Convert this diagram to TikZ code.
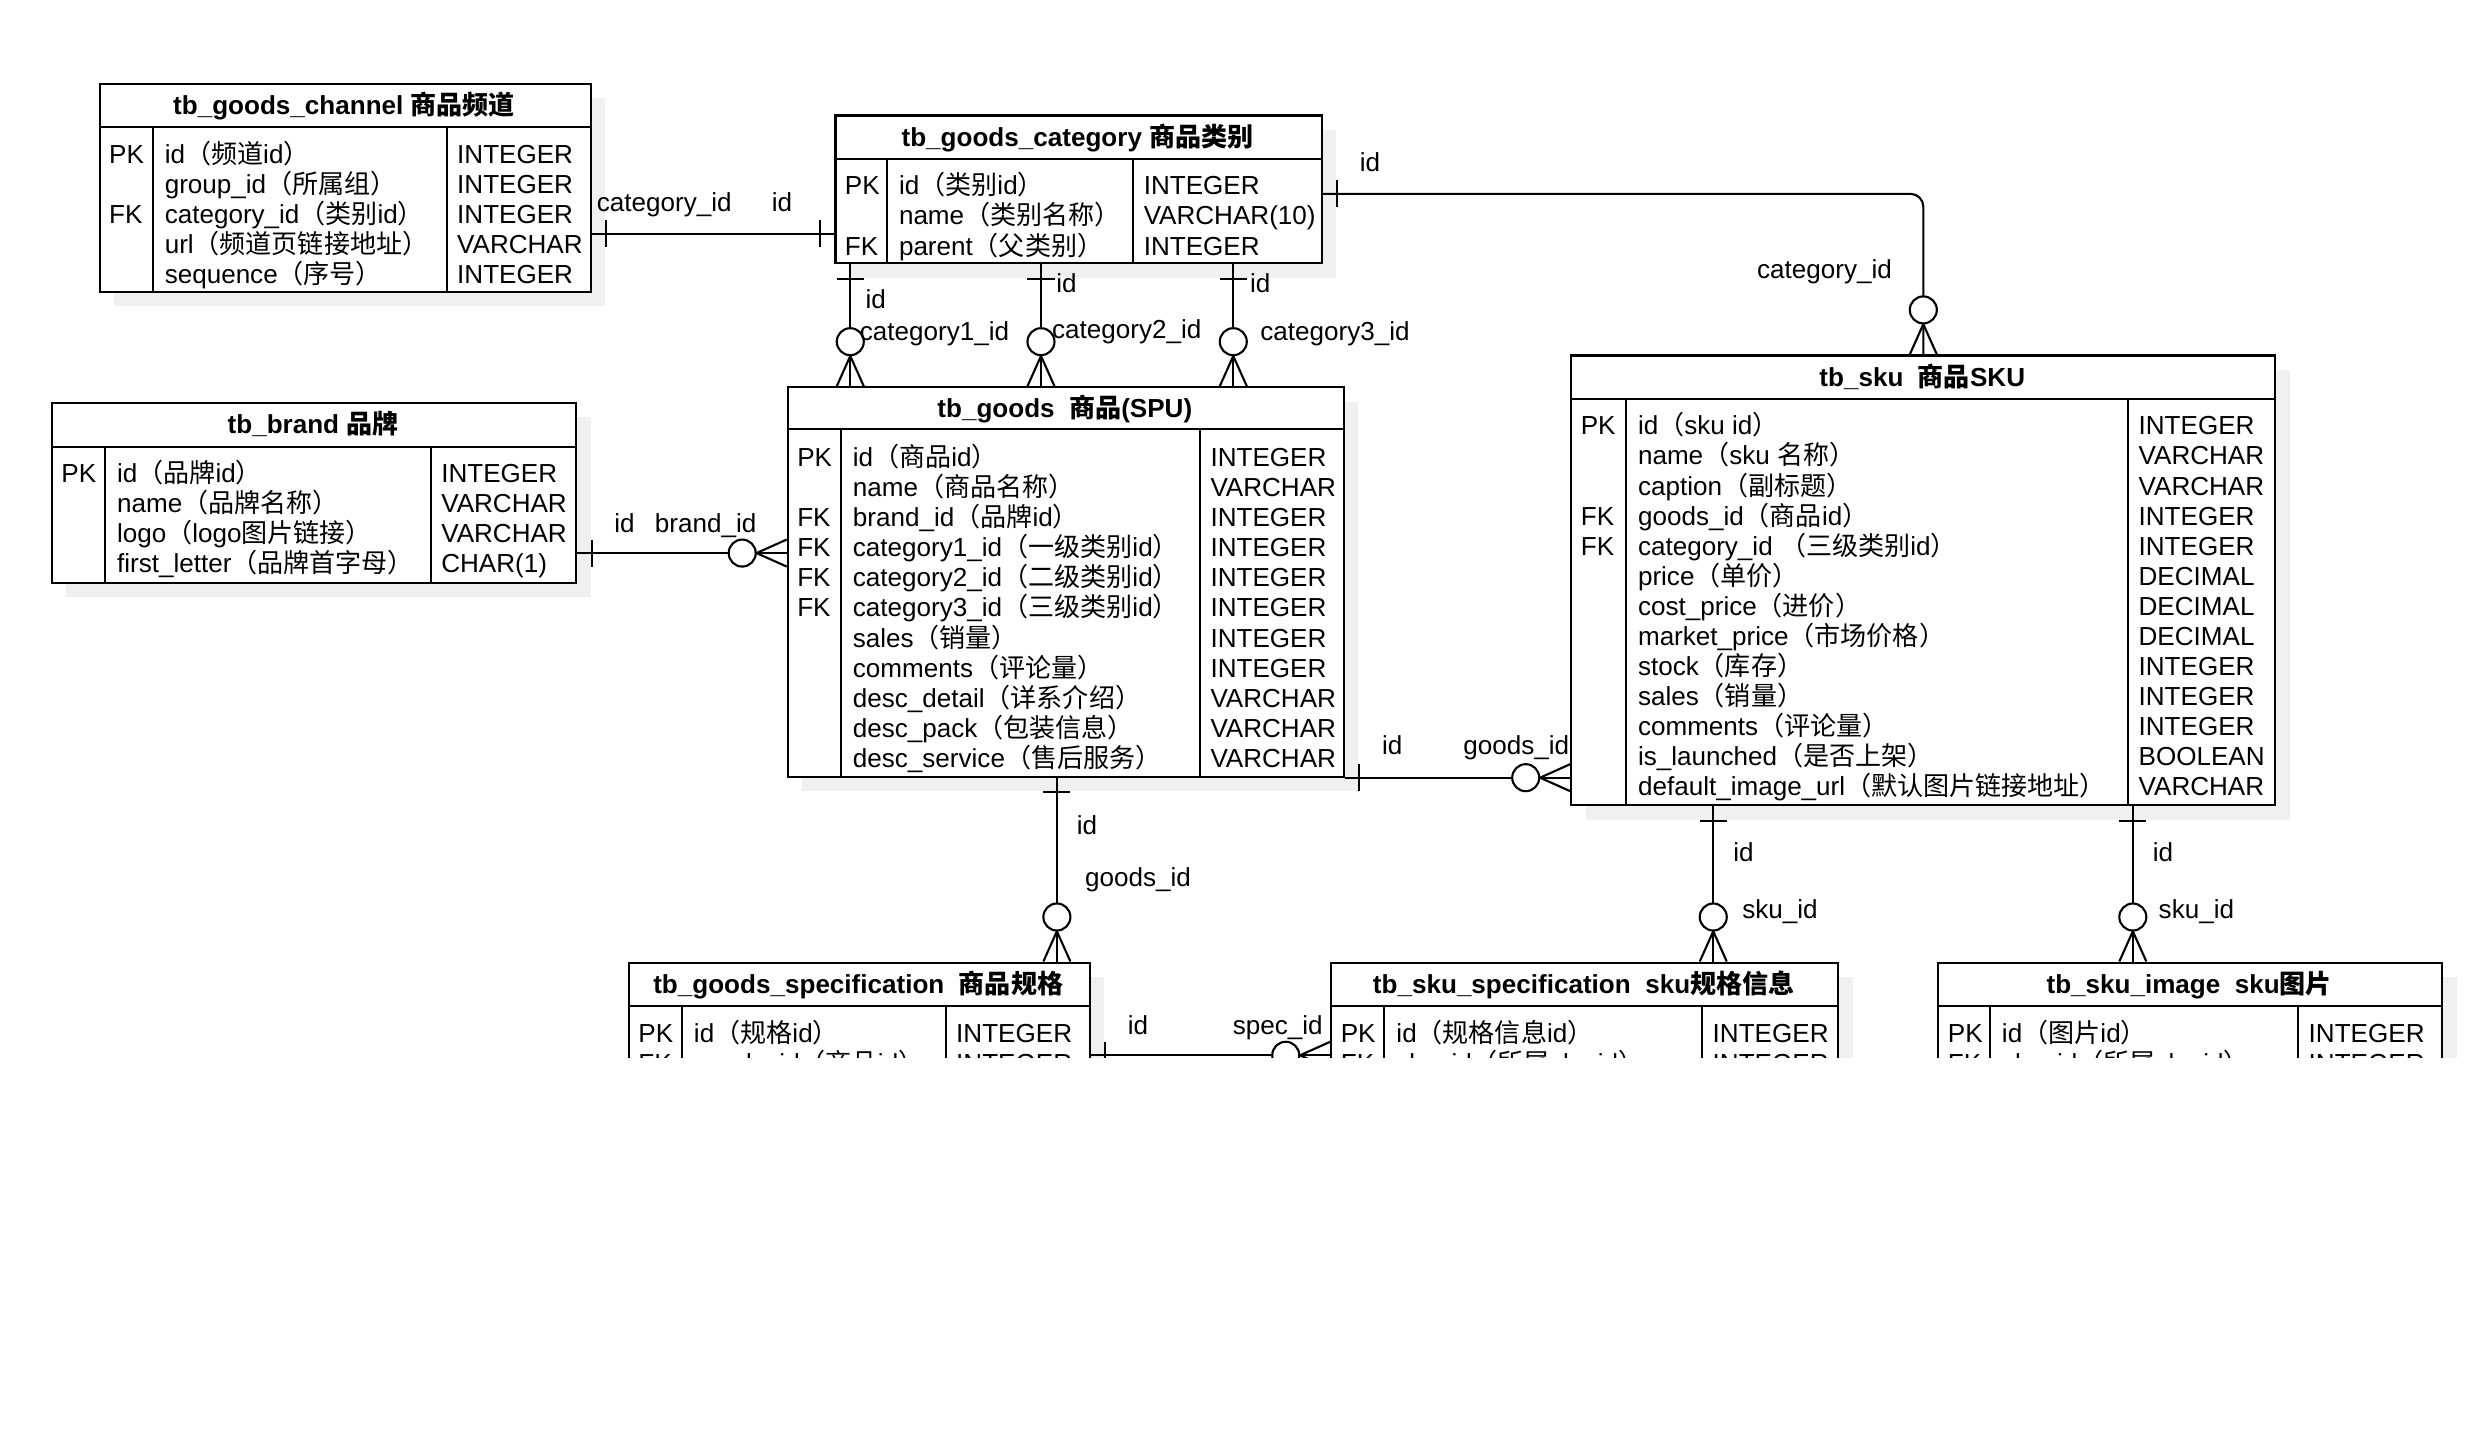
\documentclass[tikz,border=0pt]{standalone}
\usepackage{fontspec}
\setmainfont{Liberation Sans}
\newfontfamily\zhfont{Noto Sans CJK SC}
\usetikzlibrary{shadows}

\newcommand\zh[1]{{\zhfont #1}}
\newcommand\erfont{\fontsize{12.3}{14.18}\selectfont}
\newcommand\rs{\rule{0pt}{12pt}}

\tikzset{every picture/.style={line width=1pt}}
\tikzset{
  tbl/.style 2 args={draw, fill=white, inner sep=0pt, anchor=north west,
    minimum width=#1*0.75pt, minimum height=#2*0.75pt,
    general shadow={fill=black!6, shadow xshift=6.75pt, shadow yshift=-6.75pt}},
  col/.style={anchor=north west, inner sep=0pt, align=left, font=\erfont},
  ttl/.style={anchor=base, inner sep=0pt, font=\erfont\bfseries},
  lbl/.style={anchor=base, inner sep=0pt, font=\erfont},
  erone/.pic={\draw (9,-8.5) -- (9,8.5);},
  ermany/.pic={\draw (0,-8.5) -- (19,0) -- (0,8.5); \draw [fill=white] (28,0) circle [radius=8.5];},
}

\begin{document}
\begin{tikzpicture}[x=0.75pt,y=0.75pt,yscale=-1,xscale=1]
	\useasboundingbox (0,0) rectangle (1568,912);
	\begin{scope}
	\clip (0,0) rectangle (1568,665.5);

	%Table: tb_goods_channel
	\node [tbl={309}{131}] (chan) at (62,52) {};
	\draw (62,80) -- (371,80) (96,80) -- (96,183) (281,80) -- (281,183);
	\node [ttl] (chan-t) at (216.5,72) {tb\_goods\_channel \zh{商品频道}};
	\node [col] (chan-k) at (68,86) {\rs PK\\\mbox{}\\FK};
	\node [col] (chan-n) at (103,86) {\rs id\zh{（频道}id\zh{）}\\group\_id\zh{（所属组）}\\category\_id\zh{（类别}id\zh{）}\\url\zh{（频道页链接地址）}\\sequence\zh{（序号）}};
	\node [col] (chan-y) at (287,86) {\rs INTEGER\\INTEGER\\INTEGER\\VARCHAR\\INTEGER};

	%Table: tb_goods_category
	\node [tbl={306}{93}] (cat) at (525,72) {};
	\draw (525,100) -- (831,100) (558,100) -- (558,165) (713,100) -- (713,165);
	\node [ttl] (cat-t) at (678,92) {tb\_goods\_category \zh{商品类别}};
	\node [col] (cat-k) at (531,106) {\rs PK\\\mbox{}\\FK};
	\node [col] (cat-n) at (565,106) {\rs id\zh{（类别}id\zh{）}\\name\zh{（类别名称）}\\parent\zh{（父类别）}};
	\node [col] (cat-y) at (719,106) {\rs INTEGER\\VARCHAR(10)\\INTEGER};

	%Table: tb_brand
	\node [tbl={330}{113}] (brand) at (32,253) {};
	\draw (32,281) -- (362,281) (66,281) -- (66,366) (271,281) -- (271,366);
	\node [ttl] (brand-t) at (197,273) {tb\_brand \zh{品牌}};
	\node [col] (brand-k) at (38,287) {\rs PK};
	\node [col] (brand-n) at (73,287) {\rs id\zh{（品牌}id\zh{）}\\name\zh{（品牌名称）}\\logo\zh{（}logo\zh{图片链接）}\\first\_letter\zh{（品牌首字母）}};
	\node [col] (brand-y) at (277,287) {\rs INTEGER\\VARCHAR\\VARCHAR\\CHAR(1)};

	%Table: tb_goods
	\node [tbl={350}{245}] (goods) at (495,243) {};
	\draw (495,270) -- (845,270) (529,270) -- (529,488) (755,270) -- (755,488);
	\node [ttl] (goods-t) at (670,262.5) {tb\_goods\ \ \zh{商品}(SPU)};
	\node [col] (goods-k) at (501,277) {\rs PK\\\mbox{}\\FK\\FK\\FK\\FK};
	\node [col] (goods-n) at (536,277) {\rs id\zh{（商品}id\zh{）}\\name\zh{（商品名称）}\\brand\_id\zh{（品牌}id\zh{）}\\category1\_id\zh{（一级类别}id\zh{）}\\category2\_id\zh{（二级类别}id\zh{）}\\category3\_id\zh{（三级类别}id\zh{）}\\sales\zh{（销量）}\\comments\zh{（评论量）}\\desc\_detail\zh{（详系介绍）}\\desc\_pack\zh{（包装信息）}\\desc\_service\zh{（售后服务）}};
	\node [col] (goods-y) at (761,277) {\rs INTEGER\\VARCHAR\\INTEGER\\INTEGER\\INTEGER\\INTEGER\\INTEGER\\INTEGER\\VARCHAR\\VARCHAR\\VARCHAR};

	%Table: tb_sku
	\node [tbl={443}{283}] (sku) at (988,223) {};
	\draw (988,251) -- (1431,251) (1023,251) -- (1023,506) (1339,251) -- (1339,506);
	\node [ttl] (sku-t) at (1209.5,243) {tb\_sku\ \ \zh{商品}SKU};
	\node [col] (sku-k) at (994,257) {\rs PK\\\mbox{}\\\mbox{}\\FK\\FK};
	\node [col] (sku-n) at (1030,257) {\rs id\zh{（}sku id\zh{）}\\name\zh{（}sku \zh{名称）}\\caption\zh{（副标题）}\\goods\_id\zh{（商品}id\zh{）}\\category\_id \zh{（三级类别}id\zh{）}\\price\zh{（单价）}\\cost\_price\zh{（进价）}\\market\_price\zh{（市场价格）}\\stock\zh{（库存）}\\sales\zh{（销量）}\\comments\zh{（评论量）}\\is\_launched\zh{（是否上架）}\\default\_image\_url\zh{（默认图片链接地址）}};
	\node [col] (sku-y) at (1345,257) {\rs INTEGER\\VARCHAR\\VARCHAR\\INTEGER\\INTEGER\\DECIMAL\\DECIMAL\\DECIMAL\\INTEGER\\INTEGER\\INTEGER\\BOOLEAN\\VARCHAR};

	%Table: tb_goods_specification
	\node [tbl={290}{100}] (gspec) at (395,605) {};
	\draw (395,633) -- (685,633) (429,633) -- (429,705) (595,633) -- (595,705);
	\node [ttl] (gspec-t) at (540,625) {tb\_goods\_specification\ \ \zh{商品规格}};
	\node [col] (gspec-k) at (401,639) {\rs PK\\FK};
	\node [col] (gspec-n) at (436,639) {\rs id\zh{（规格}id\zh{）}\\goods\_id\zh{（商品}id\zh{）}};
	\node [col] (gspec-y) at (601,639) {\rs INTEGER\\INTEGER};

	%Table: tb_sku_specification
	\node [tbl={319}{100}] (sspec) at (837,605) {};
	\draw (837,633) -- (1156,633) (871,633) -- (871,705) (1071,633) -- (1071,705);
	\node [ttl] (sspec-t) at (996.5,625) {tb\_sku\_specification\ \ sku\zh{规格信息}};
	\node [col] (sspec-k) at (843,639) {\rs PK\\FK};
	\node [col] (sspec-n) at (878,639) {\rs id\zh{（规格信息}id\zh{）}\\sku\_id\zh{（所属}sku id\zh{）}};
	\node [col] (sspec-y) at (1077,639) {\rs INTEGER\\INTEGER};

	%Table: tb_sku_image
	\node [tbl={317}{100}] (simg) at (1219,605) {};
	\draw (1219,633) -- (1536,633) (1252,633) -- (1252,705) (1446,633) -- (1446,705);
	\node [ttl] (simg-t) at (1377.5,625) {tb\_sku\_image\ \ sku\zh{图片}};
	\node [col] (simg-k) at (1225,639) {\rs PK\\FK};
	\node [col] (simg-n) at (1259,639) {\rs id\zh{（图片}id\zh{）}\\sku\_id\zh{（所属}sku id\zh{）}};
	\node [col] (simg-y) at (1452,639) {\rs INTEGER\\INTEGER};

	%Relation: channel -- category
	\draw (chan.east |- 0,147) -- (cat.west |- 0,147);
	\pic at (chan.east |- 0,147) {erone};
	\pic [rotate=180] at (cat.west |- 0,147) {erone};
	\node [lbl] (l-chan-cid) at (418,133) {category\_id};
	\node [lbl] (l-chan-id) at (492,133) {id};

	%Relation: category -- sku
	\draw [rounded corners=6pt] (cat.east |- 0,122) -| (sku.north);
	\pic at (cat.east |- 0,122) {erone};
	\pic [rotate=90] at (sku.north) {ermany};
	\node [lbl] (l-sku-id) at (862,108) {id};
	\node [lbl] (l-sku-cid) at (1148,175) {category\_id};

	%Relation: category -- goods (three levels)
	\draw (cat.south -| 535,0) -- (goods.north -| 535,0);
	\pic [rotate=-90] at (cat.south -| 535,0) {erone};
	\pic [rotate=90] at (goods.north -| 535,0) {ermany};
	\draw (cat.south -| 655,0) -- (goods.north -| 655,0);
	\pic [rotate=-90] at (cat.south -| 655,0) {erone};
	\pic [rotate=90] at (goods.north -| 655,0) {ermany};
	\draw (cat.south -| 776,0) -- (goods.north -| 776,0);
	\pic [rotate=-90] at (cat.south -| 776,0) {erone};
	\pic [rotate=90] at (goods.north -| 776,0) {ermany};
	\node [lbl] (l-c1-id) at (551,194) {id};
	\node [lbl] (l-c1) at (588,214) {category1\_id};
	\node [lbl] (l-c2-id) at (671,184) {id};
	\node [lbl] (l-c2) at (709,213) {category2\_id};
	\node [lbl] (l-c3-id) at (793,184) {id};
	\node [lbl] (l-c3) at (840,214) {category3\_id};

	%Relation: brand -- goods
	\draw (brand.east |- 0,348) -- (goods.west |- 0,348);
	\pic at (brand.east |- 0,348) {erone};
	\pic [rotate=180] at (goods.west |- 0,348) {ermany};
	\node [lbl] (l-brand-id) at (393,335) {id};
	\node [lbl] (l-brand-bid) at (444,335) {brand\_id};

	%Relation: goods -- sku
	\draw (goods.south east) -- (sku.west |- goods.south east);
	\pic at (goods.south east) {erone};
	\pic [rotate=180] at (sku.west |- goods.south east) {ermany};
	\node [lbl] (l-gsku-id) at (876,475) {id};
	\node [lbl] (l-gsku-gid) at (954,475) {goods\_id};

	%Relation: goods -- goods_specification
	\draw (goods.south -| 665,0) -- (gspec.north -| 665,0);
	\pic [rotate=-90] at (goods.south -| 665,0) {erone};
	\pic [rotate=90] at (gspec.north -| 665,0) {ermany};
	\node [lbl] (l-gs-id) at (684,525) {id};
	\node [lbl] (l-gs-gid) at (716,558) {goods\_id};

	%Relation: goods_specification -- sku_specification
	\draw (gspec.east |- 0,664) -- (sspec.west |- 0,664);
	\pic at (gspec.east |- 0,664) {erone};
	\pic [rotate=180] at (sspec.west |- 0,664) {ermany};
	\node [lbl] (l-ss-id) at (716,651) {id};
	\node [lbl] (l-ss-sid) at (804,651) {spec\_id};

	%Relation: sku -- sku_specification
	\draw (sku.south -| 1078,0) -- (sspec.north -| 1078,0);
	\pic [rotate=-90] at (sku.south -| 1078,0) {erone};
	\pic [rotate=90] at (sspec.north -| 1078,0) {ermany};
	\node [lbl] (l-sks-id) at (1097,542) {id};
	\node [lbl] (l-sks-sid) at (1120,578) {sku\_id};

	%Relation: sku -- sku_image
	\draw (sku.south -| 1342,0) -- (simg.north -| 1342,0);
	\pic [rotate=-90] at (sku.south -| 1342,0) {erone};
	\pic [rotate=90] at (simg.north -| 1342,0) {ermany};
	\node [lbl] (l-ski-id) at (1361,542) {id};
	\node [lbl] (l-ski-sid) at (1382,578) {sku\_id};

	\end{scope}
\end{tikzpicture}
\end{document}
